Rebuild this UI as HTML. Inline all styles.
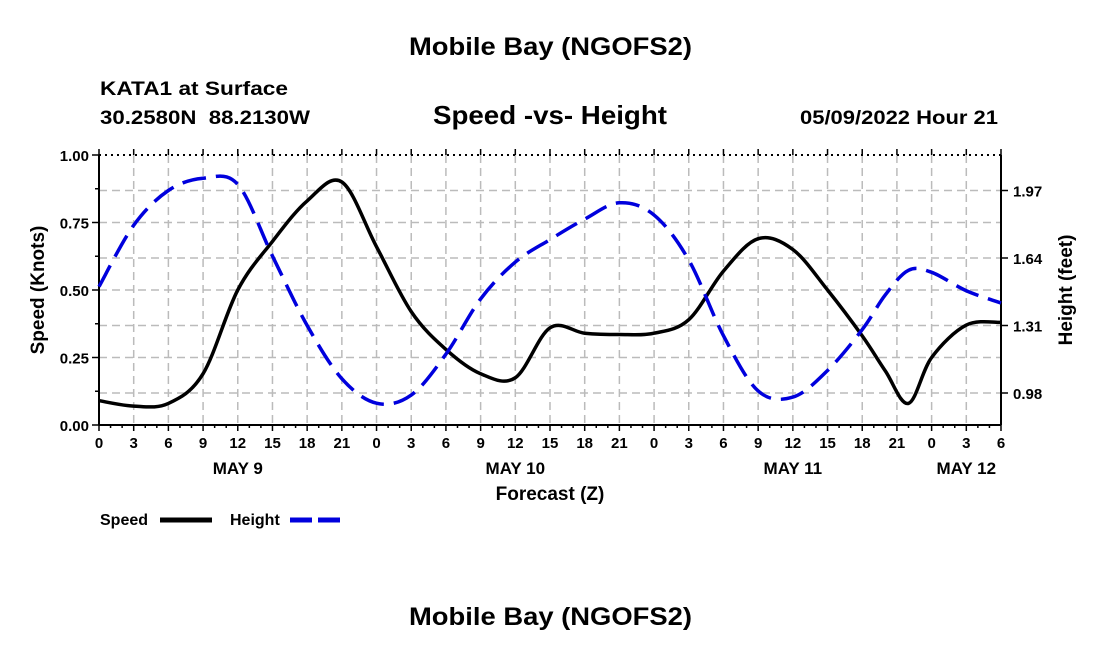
<!DOCTYPE html>
<html><head><meta charset="utf-8"><style>
body{margin:0;background:#fff;width:1100px;height:650px;overflow:hidden}
svg text{font-family:"Liberation Sans",sans-serif;font-weight:bold;fill:#000;white-space:pre}
</style></head><body>
<svg id="c" width="1100" height="650">
<text x="409" y="55" font-size="25" textLength="283" lengthAdjust="spacingAndGlyphs">Mobile Bay (NGOFS2)</text>
<text x="100" y="95" font-size="19" textLength="188" lengthAdjust="spacingAndGlyphs">KATA1 at Surface</text>
<text x="100" y="124" font-size="19" textLength="210" lengthAdjust="spacingAndGlyphs">30.2580N  88.2130W</text>
<text x="433" y="124" font-size="26" textLength="234" lengthAdjust="spacingAndGlyphs">Speed -vs- Height</text>
<text x="800" y="124" font-size="19" textLength="198" lengthAdjust="spacingAndGlyphs">05/09/2022 Hour 21</text>
<text x="409" y="625" font-size="25" textLength="283" lengthAdjust="spacingAndGlyphs">Mobile Bay (NGOFS2)</text>
<g id="grid"></g><g id="axes"></g><g id="series"></g>
<text x="550" y="500" font-size="19" text-anchor="middle">Forecast (Z)</text>
<text transform="translate(44,290) rotate(-90)" font-size="19" text-anchor="middle">Speed (Knots)</text>
<text transform="translate(1072,290) rotate(-90)" font-size="19" text-anchor="middle">Height (feet)</text>
<g>
<text x="100" y="525" font-size="16">Speed</text>
<line x1="160" y1="520" x2="212" y2="520" stroke="#000" stroke-width="5"/>
<text x="230" y="525" font-size="16">Height</text>
<line x1="290" y1="520" x2="342" y2="520" stroke="#0000dd" stroke-width="5" stroke-dasharray="22,6"/>
</g>
</svg>
<script>
const hours=[0,3,6,9,12,15,18,21,24,27,30,33,36,39,42,45,48,51,54,57,60,63,66,68,70,72,75,78];
const speed=[0.09,0.07,0.08,0.19,0.5,0.68,0.83,0.9,0.66,0.42,0.28,0.19,0.175,0.36,0.34,0.335,0.34,0.39,0.57,0.69,0.65,0.5,0.33,0.2,0.08,0.25,0.37,0.38];
const heightFt=[1.50,1.80,1.97,2.03,2.00,1.65,1.31,1.05,0.93,0.97,1.17,1.44,1.62,1.73,1.83,1.91,1.85,1.63,1.26,0.99,0.96,1.09,1.29,1.46,1.58,1.57,1.48,1.42];
const tickHours=[0,3,6,9,12,15,18,21,24,27,30,33,36,39,42,45,48,51,54,57,60,63,66,69,72,75,78];
const xLabels=["0","3","6","9","12","15","18","21","0","3","6","9","12","15","18","21","0","3","6","9","12","15","18","21","0","3","6"];
const yTicks=["0.00","0.25","0.50","0.75","1.00"];
const y2Ticks=["0.98","1.31","1.64","1.97"];
const dayLabels=[["MAY 9",12],["MAY 10",36],["MAY 11",60],["MAY 12",75]];
const X0=99,X1=1001,YT=155,YB=425,HMAX=78;
const xs=h=>X0+(X1-X0)*h/HMAX;
const ys=v=>YB-(YB-YT)*v;
const ys2=f=>393-(f-0.98)/0.33*67.5;
const NS="http://www.w3.org/2000/svg";
function mk(p,t,a){const e=document.createElementNS(NS,t);for(const k in a)e.setAttribute(k,a[k]);document.getElementById(p).appendChild(e);return e;}
tickHours.forEach((h,i)=>{if(i>0&&i<tickHours.length-1){const l=mk('grid','line',{x1:xs(h),x2:xs(h),y1:YT,y2:YB,stroke:'#bbb','stroke-width':1.5,'stroke-dasharray':'8,5'});

}});
yTicks.forEach(t=>{const v=parseFloat(t);if(v>0&&v<1){const l=mk('grid','line',{x1:X0,x2:X1,y1:ys(v),y2:ys(v),stroke:'#bbb','stroke-width':1.5,'stroke-dasharray':'8,5'});

}});
y2Ticks.forEach(t=>{const l=mk('grid','line',{x1:X0,x2:X1,y1:ys2(+t),y2:ys2(+t),stroke:'#bbb','stroke-width':1.5,'stroke-dasharray':'8,5'});

});
let a=mk('axes','line',{x1:X0,x2:X0,y1:YT,y2:YB,stroke:'#000','stroke-width':2});

a=mk('axes','line',{x1:X1,x2:X1,y1:YT,y2:YB,stroke:'#000','stroke-width':2});

a=mk('axes','line',{x1:X0,x2:X1,y1:YB,y2:YB,stroke:'#000','stroke-width':2});

a=mk('axes','line',{x1:X0,x2:X1,y1:YT,y2:YT,stroke:'#000','stroke-width':2,'stroke-dasharray':'2,4'});

for(let h=0;h<=HMAX;h++){const big=h%3==0;mk('axes','line',{x1:xs(h),x2:xs(h),y1:YB,y2:YB+(big?6:3),stroke:'#000','stroke-width':1.5});
if(big)mk('axes','line',{x1:xs(h),x2:xs(h),y1:YT,y2:YT-6,stroke:'#000','stroke-width':1.5});}
tickHours.forEach((h,i)=>{const t=mk('axes','text',{x:xs(h),y:448,'font-size':15,'text-anchor':'middle'});t.textContent=xLabels[i];

});
dayLabels.forEach(d=>{const t=mk('axes','text',{x:xs(d[1]),y:474,'font-size':17,'text-anchor':'middle'});t.textContent=d[0];

});
for(let v=0;v<=1.0001;v+=0.125){mk('axes','line',{x1:X0-(Math.abs(v*4-Math.round(v*4))<1e-6?7:4),x2:X0,y1:ys(v),y2:ys(v),stroke:'#000','stroke-width':1.5});}
yTicks.forEach(t=>{const e=mk('axes','text',{x:X0-10,y:ys(+t)+6,'font-size':15,'text-anchor':'end'});e.textContent=t;

});
y2Ticks.forEach(t=>{mk('axes','line',{x1:X1,x2:X1+7,y1:ys2(+t),y2:ys2(+t),stroke:'#000','stroke-width':1.5});
const e=mk('axes','text',{x:X1+12,y:ys2(+t)+6,'font-size':15});e.textContent=t;

});
function path(pts){let d='M'+pts[0][0]+','+pts[0][1];for(let i=0;i<pts.length-1;i++){const p0=pts[Math.max(0,i-1)],p1=pts[i],p2=pts[i+1],p3=pts[Math.min(pts.length-1,i+2)];
d+=' C'+(p1[0]+(p2[0]-p0[0])/6)+','+(p1[1]+(p2[1]-p0[1])/6)+' '+(p2[0]-(p3[0]-p1[0])/6)+','+(p2[1]-(p3[1]-p1[1])/6)+' '+p2[0]+','+p2[1];}return d;}
let s=mk('series','path',{d:path(hours.map((h,i)=>[xs(h),ys(speed[i])])),fill:'none',stroke:'#000','stroke-width':3.5});

s=mk('series','path',{d:path(hours.map((h,i)=>[xs(h),ys2(heightFt[i])])),fill:'none',stroke:'#0000dd','stroke-width':3.5,'stroke-dasharray':'24,10'});

</script>
</body></html>
